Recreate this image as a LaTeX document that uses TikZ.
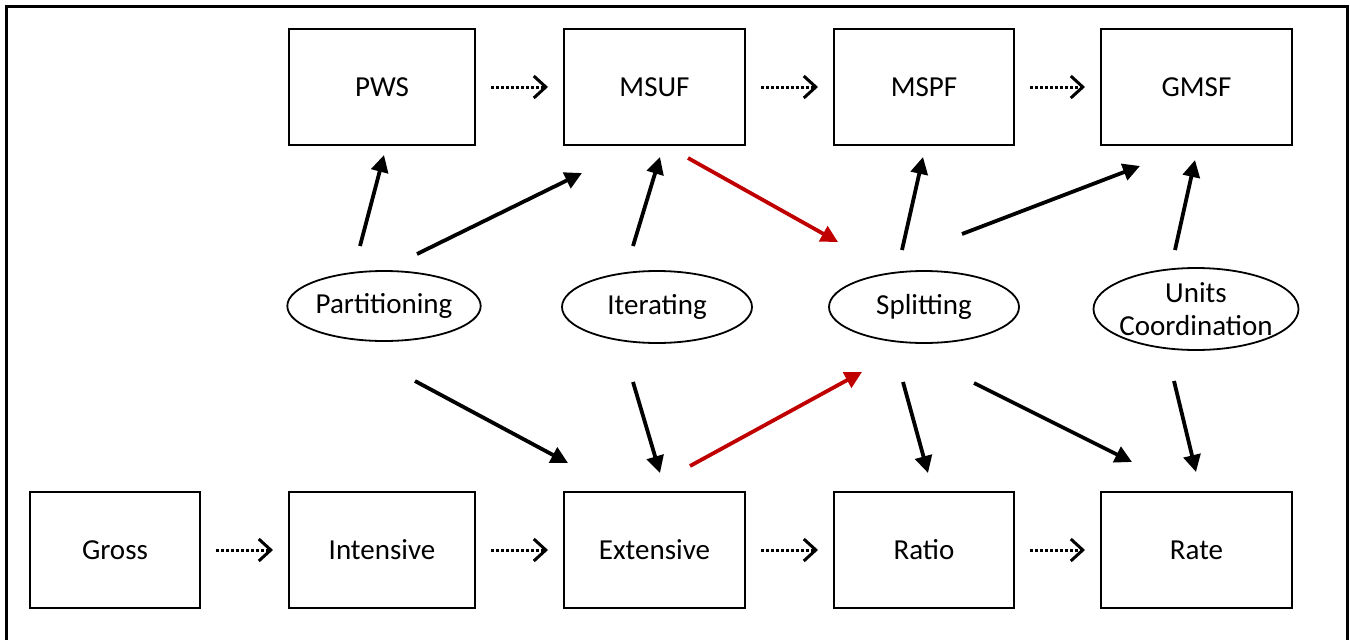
\documentclass[tikz,border=0pt]{standalone}
\usepackage{fontspec}
\setmainfont{Carlito}
\usetikzlibrary{arrows.meta,shapes.geometric,calc}
\definecolor{darkred}{RGB}{192,0,0}
\tikzset{
  boxnode/.style={draw,line width=2pt,rectangle,minimum height=116pt,inner sep=0pt,font=\fontsize{29}{34}\selectfont},
  ovalnode/.style={draw,line width=1.8pt,ellipse,inner sep=0pt,align=center,font=\fontsize{29}{33}\selectfont},
  solidarrow/.style={line width=3.8pt,-{Triangle[length=17pt,width=17pt]}},
  redarrow/.style={solidarrow,draw=darkred,fill=darkred},
  dotarrow/.style={line width=3pt,dash pattern=on 3pt off 2pt,-{Straight Barb[length=12pt,width=22pt,line width=3pt]}},
}
\begin{document}
\begin{tikzpicture}[x=1pt,y=-1pt]
\useasboundingbox (0,0) rectangle (1350,640);
\clip (0,0) rectangle (1350,640);
\fill[white] (0,0) rectangle (1350,640);
\draw[line width=3pt] (6,6) rectangle (1347,680);
% top row
\node[boxnode,minimum width=186pt] (pws) at (382,87) {PWS};
\node[boxnode,minimum width=181pt] (msuf) at (654.5,87) {MSUF};
\node[boxnode,minimum width=180pt] (mspf) at (924,87) {MSPF};
\node[boxnode,minimum width=191pt] (gmsf) at (1196.5,87) {GMSF};
% bottom row
\node[boxnode,minimum width=170pt] (gross) at (115,550) {Gross};
\node[boxnode,minimum width=186pt] (inten) at (382,550) {Intensive};
\node[boxnode,minimum width=181pt] (ext) at (654.5,550) {Extensive};
\node[boxnode,minimum width=180pt] (ratio) at (924,550) {Ratio};
\node[boxnode,minimum width=191pt] (rate) at (1196.5,550) {Rate};
% ellipses
\node[ovalnode,minimum width=192pt,minimum height=70pt] (part) at (384,306) {Partitioning};
\node[ovalnode,minimum width=190pt,minimum height=72pt] (iter) at (657,307) {Iterating};
\node[ovalnode,minimum width=190pt,minimum height=72pt] (split) at (924,307) {Splitting};
\node[ovalnode,minimum width=205pt,minimum height=82pt,inner xsep=-7pt,inner ysep=-4pt] (units) at (1196,309) {Units\\Coordination};
% dotted arrows
\draw[dotarrow] ([xshift=15pt]pws.east) -- ([xshift=-15pt]msuf.west);
\draw[dotarrow] ([xshift=15pt]msuf.east) -- ([xshift=-15pt]mspf.west);
\draw[dotarrow] ([xshift=15pt]mspf.east) -- ([xshift=-15pt]gmsf.west);
\draw[dotarrow] ([xshift=15pt]gross.east) -- ([xshift=-15pt]inten.west);
\draw[dotarrow] ([xshift=15pt]inten.east) -- ([xshift=-15pt]ext.west);
\draw[dotarrow] ([xshift=15pt]ext.east) -- ([xshift=-15pt]ratio.west);
\draw[dotarrow] ([xshift=15pt]ratio.east) -- ([xshift=-15pt]rate.west);
% solid arrows
\draw[solidarrow] ($(part)+(-24,-60)$) -- ($(pws)+(2,68)$);
\draw[solidarrow] ($(part)+(33,-52)$) -- ($(msuf)+(-72.5,86)$);
\draw[solidarrow] ($(iter)+(-24,-61)$) -- ($(msuf)+(5.5,70)$);
\draw[redarrow] ($(msuf)+(33.5,71)$) -- ($(split)+(-86,-65)$);
\draw[solidarrow] ($(split)+(-22,-57)$) -- ($(mspf)+(-1,70)$);
\draw[solidarrow] ($(split)+(38,-73)$) -- ($(gmsf)+(-56.5,79)$);
\draw[solidarrow] ($(units)+(-21,-59)$) -- ($(gmsf)+(-1.5,73)$);
\draw[solidarrow] ($(part)+(31,75)$) -- ($(ext)+(-86.5,-87)$);
\draw[solidarrow] ($(iter)+(-24,75)$) -- ($(ext)+(5.5,-77)$);
\draw[redarrow] ($(ext)+(35.5,-84)$) -- ($(split)+(-62,65)$);
\draw[solidarrow] ($(split)+(-21,75)$) -- ($(ratio)+(4,-77)$);
\draw[solidarrow] ($(split)+(50,76)$) -- ($(rate)+(-64.5,-88)$);
\draw[solidarrow] ($(units)+(-22,72)$) -- ($(rate)+(-0.5,-78)$);
\end{tikzpicture}
\end{document}
